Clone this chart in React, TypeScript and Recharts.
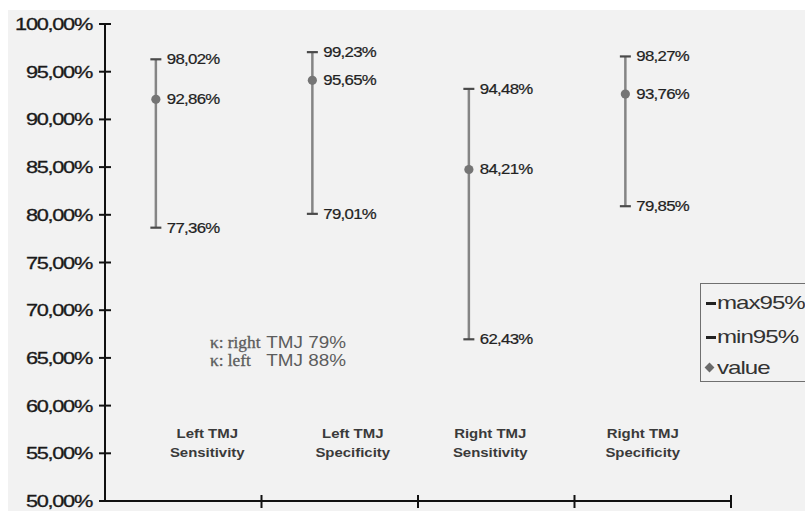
import * as React from "react";
import { ComposedChart, Line, XAxis, YAxis, ErrorBar, LabelList, Legend } from "recharts";

// categories along the x axis
const categories = ["Left TMJ Sensitivity", "Left TMJ Specificity", "Right TMJ Sensitivity", "Right TMJ Specificity"];

// plotted positions (as drawn in the picture)
const max95 = [96.3, 97.05, 93.2, 96.6];
const value = [92.1, 94.1, 84.75, 92.65];
const min95 = [78.65, 80.1, 66.95, 80.9];

// printed labels next to each marker
const max95Text = ["98,02%", "99,23%", "94,48%", "98,27%"];
const valueText = ["92,86%", "95,65%", "84,21%", "93,76%"];
const min95Text = ["77,36%", "79,01%", "62,43%", "79,85%"];

const yTicks = [50, 55, 60, 65, 70, 75, 80, 85, 90, 95, 100];

const SANS = "'Liberation Sans', Arial, sans-serif";
const SERIF = "'Liberation Serif', 'Times New Roman', serif";
const BG = "#f2f2f2";

// marks sit left of the band centre
const MARK_OFFSET = 0.325;
// nudges (px) for the category captions
const catNudge = [24, 13, -6, -10];

const rows = categories.map((c, i) => ({
    x: i + MARK_OFFSET,
    max: max95[i],
    value: value[i],
    min: min95[i],
    err: [value[i] - min95[i], max95[i] - value[i]],
    maxText: max95Text[i],
    valueText: valueText[i],
    minText: min95Text[i],
}));

const xTicks = Array.from({ length: categories.length * 2 + 1 }, (_, k) => k / 2);

const fmtPct = (v: number) => `${v.toFixed(2).replace(".", ",")}%`;

const YTick = (props: any) => {
    const { x, y, payload } = props;
    return (
        <g>
            <line x1={x - 6} x2={x + 6} y1={y} y2={y} stroke="#111" strokeWidth={2} />
            <g transform={`translate(${x - 13},${y + 6}) scale(1.28,1)`}>
                <text textAnchor="end" fontSize={17} letterSpacing={-1} fill="#1a1a1a" stroke="#1a1a1a" strokeWidth={0.3} fontFamily={SANS}>
                    {fmtPct(payload.value)}
                </text>
            </g>
        </g>
    );
};

const XTick = (props: any) => {
    const { x, y, payload } = props;
    const v = payload.value as number;
    if (Number.isInteger(v)) {
        if (v === 0) return <g />;
        return <line x1={x} x2={x} y1={y - 6} y2={y + 7} stroke="#111" strokeWidth={2} />;
    }
    const i = Math.floor(v);
    const name = categories[i];
    const cut = name.lastIndexOf(" ");
    const cx = x + catNudge[i];
    return (
        <g fontFamily={SANS} fontSize={13} fontWeight="bold" fill="#3a3a3a">
            <g transform={`translate(${cx},${y - 63.5}) scale(1.15,1)`}>
                <text textAnchor="middle">{name.slice(0, cut)}</text>
            </g>
            <g transform={`translate(${cx},${y - 44.5}) scale(1.15,1)`}>
                <text textAnchor="middle">{name.slice(cut + 1)}</text>
            </g>
        </g>
    );
};

const PointLabel = (props: any) => {
    const { x, y, value: txt } = props;
    return (
        <g transform={`translate(${x + 11},${y + 5}) scale(1.2,1)`}>
            <text fontSize={14} letterSpacing={-0.6} fill="#222" stroke="#222" strokeWidth={0.2} fontFamily={SANS}>
                {txt}
            </text>
        </g>
    );
};

const capDot = (id: string) => (p: any) => (
    <line key={`${id}-${p.index}`} x1={p.cx - 5.5} x2={p.cx + 5.5} y1={p.cy} y2={p.cy} stroke="#4a4a4a" strokeWidth={2.2} />
);

const valueDot = (p: any) => <circle key={`val-${p.index}`} cx={p.cx} cy={p.cy} r={4.6} fill="#757575" />;

const LegendBox = () => {
    const item = (top: number, marker: React.ReactNode, label: string) => (
        <div style={{ position: "absolute", left: 0, top: top - 12, height: 24, width: "100%" }}>
            {marker}
            <span
                style={{
                    position: "absolute",
                    left: 16,
                    top: 0,
                    lineHeight: "24px",
                    fontSize: 19,
                    letterSpacing: -0.8,
                    transform: "scaleX(1.27)",
                    transformOrigin: "left center",
                    whiteSpace: "nowrap",
                }}
            >
                {label}
            </span>
        </div>
    );
    const dash = <div style={{ position: "absolute", left: 5, top: 11, width: 10, height: 3, background: "#222" }} />;
    const diamond = (
        <div style={{ position: "absolute", left: 5, top: 8, width: 7, height: 7, background: "#6a6a6a", transform: "rotate(45deg)" }} />
    );
    return (
        <div
            style={{
                position: "relative",
                width: 105,
                height: 99,
                boxSizing: "border-box",
                border: "1.5px solid #707070",
                borderRight: "none",
                background: BG,
                fontFamily: SANS,
                color: "#333",
            }}
        >
            {item(19, dash, "max95%")}
            {item(53, dash, "min95%")}
            {item(84, diamond, "value")}
        </div>
    );
};

export default function App() {
    return (
        <div style={{ position: "fixed", left: 0, top: 0, width: 805, height: 511, overflow: "hidden", background: "#fff" }}>
            <div style={{ position: "absolute", left: 8, top: 10, width: 797, height: 501, background: BG }}>
                <ComposedChart width={797} height={501} data={rows} margin={{ top: 14, right: 74, bottom: 0, left: 0 }}>
                    <XAxis
                        dataKey="x"
                        type="number"
                        domain={[0, 4]}
                        ticks={xTicks}
                        interval={0}
                        height={10}
                        axisLine={{ stroke: "#111", strokeWidth: 2 }}
                        tickLine={false}
                        tickSize={0}
                        tickMargin={0}
                        tick={<XTick />}
                    />
                    <YAxis
                        type="number"
                        domain={[50, 100]}
                        ticks={yTicks}
                        interval={0}
                        width={97}
                        axisLine={{ stroke: "#111", strokeWidth: 2 }}
                        tickLine={false}
                        tickSize={0}
                        tickMargin={0}
                        tick={<YTick />}
                    />
                    <Legend
                        layout="vertical"
                        align="center"
                        verticalAlign="middle"
                        wrapperStyle={{ left: 692, top: 273, width: 105, height: 99 }}
                        content={<LegendBox />}
                    />
                    <Line dataKey="value" stroke="none" dot={false} activeDot={false} isAnimationActive={false} legendType="none">
                        <ErrorBar dataKey="err" direction="y" width={0} stroke="#858585" strokeWidth={2.5} isAnimationActive={false} />
                    </Line>
                    <Line dataKey="max" name="max95%" stroke="none" dot={capDot("max")} activeDot={false} isAnimationActive={false}>
                        <LabelList dataKey="maxText" content={<PointLabel />} />
                    </Line>
                    <Line dataKey="min" name="min95%" stroke="none" dot={capDot("min")} activeDot={false} isAnimationActive={false}>
                        <LabelList dataKey="minText" content={<PointLabel />} />
                    </Line>
                    <Line dataKey="value" name="value" stroke="none" dot={valueDot} activeDot={false} isAnimationActive={false}>
                        <LabelList dataKey="valueText" content={<PointLabel />} />
                    </Line>
                    <g fill="#5c5c5c">
                        <g transform="translate(202,338) scale(1.08,1)">
                            <text fontFamily={SERIF} fontSize={16} stroke="#5c5c5c" strokeWidth={0.3}>κ: right</text>
                        </g>
                        <g transform="translate(338,338) scale(1.18,1)">
                            <text textAnchor="end" fontFamily={SANS} fontSize={16}>TMJ 79%</text>
                        </g>
                        <g transform="translate(202,356) scale(1.08,1)">
                            <text fontFamily={SERIF} fontSize={16} stroke="#5c5c5c" strokeWidth={0.3}>κ: left</text>
                        </g>
                        <g transform="translate(338,356) scale(1.18,1)">
                            <text textAnchor="end" fontFamily={SANS} fontSize={16}>TMJ 88%</text>
                        </g>
                    </g>
                </ComposedChart>
            </div>
        </div>
    );
}
